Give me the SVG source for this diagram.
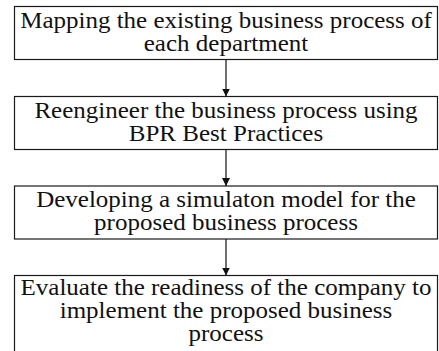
<svg xmlns="http://www.w3.org/2000/svg" width="439" height="351" viewBox="0 0 439 351">
  <style>
    .box { fill: #ffffff; stroke: #1a1a1a; stroke-width: 1.2; }
    .label { font-family: 'Liberation Serif', 'Times New Roman', 'DejaVu Serif', serif; font-size: 23px; fill: #111111; text-anchor: middle; }
    .link { stroke: #111111; stroke-width: 1.2; fill: none; marker-end: url(#head); }
  </style>
  <defs>
    <marker id="head" viewBox="0 0 8 8" refX="8" refY="4" markerWidth="8" markerHeight="8" markerUnits="userSpaceOnUse" orient="auto">
      <path d="M0,0 L8,4 L0,8 z" fill="#111111"/>
    </marker>
  </defs>
  <rect width="439" height="351" fill="#ffffff"/>

  <!-- process steps, top to bottom; labels are widened slightly around the centre line x=226 -->
  <g id="step-mapping">
    <rect class="box" x="14.5" y="6.5" width="423" height="53"/>
    <g transform="matrix(1.087 0 0 1 226 0)">
      <text class="label" x="0" y="28.5" font-family="Liberation Serif, serif">Mapping the existing business process of</text>
      <text class="label" x="0" y="51.5" font-family="Liberation Serif, serif">each department</text>
    </g>
  </g>
  <g id="step-reengineer">
    <rect class="box" x="14.5" y="96.5" width="423" height="53"/>
    <g transform="matrix(1.087 0 0 1 226 0)">
      <text class="label" x="0" y="118" font-family="Liberation Serif, serif">Reengineer the business process using</text>
      <text class="label" x="0" y="141" font-family="Liberation Serif, serif">BPR Best Practices</text>
    </g>
  </g>
  <g id="step-simulation">
    <rect class="box" x="14.5" y="186" width="423" height="53"/>
    <g transform="matrix(1.087 0 0 1 226 0)">
      <text class="label" x="0" y="207" font-family="Liberation Serif, serif">Developing a simulaton model for the</text>
      <text class="label" x="0" y="230" font-family="Liberation Serif, serif">proposed business process</text>
    </g>
  </g>
  <g id="step-readiness">
    <rect class="box" x="14.5" y="275.5" width="423" height="90"/>
    <g transform="matrix(1.087 0 0 1 226 0)">
      <text class="label" x="0" y="295" font-family="Liberation Serif, serif">Evaluate the readiness of the company to</text>
      <text class="label" x="0" y="318" font-family="Liberation Serif, serif">implement the proposed business</text>
      <text class="label" x="0" y="341" font-family="Liberation Serif, serif">process</text>
    </g>
  </g>

  <!-- connectors -->
  <g id="connectors">
    <line class="link" x1="226" y1="59.5" x2="226" y2="96.5"/>
    <line class="link" x1="226" y1="149.5" x2="226" y2="186"/>
    <line class="link" x1="226" y1="239" x2="226" y2="275.5"/>
  </g>
</svg>
